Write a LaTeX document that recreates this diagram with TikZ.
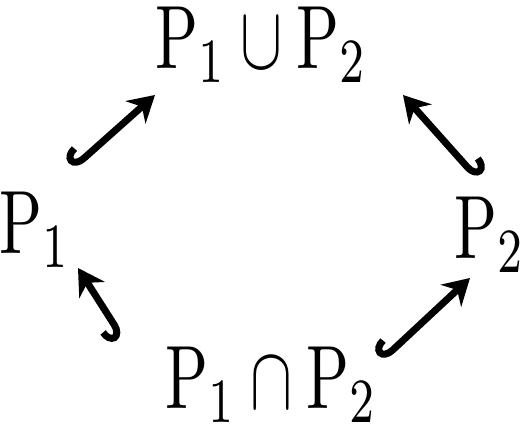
\documentclass[tikz,border=0pt]{standalone}
\usetikzlibrary{arrows.meta}
\begin{document}
\begin{tikzpicture}[x=1pt,y=1pt,
  lbl/.style={inner sep=0pt,xscale=6.3,yscale=9},
  inclr/.style={line width=7pt,line cap=round,{Hooks[right,length=14pt,width=34pt]}-{Stealth[length=26pt,width=30pt]}},
  incll/.style={line width=7pt,line cap=round,{Hooks[left,length=14pt,width=34pt]}-{Stealth[length=26pt,width=30pt]}}]
\useasboundingbox (0,0) rectangle (523,435);
\node[lbl] (union) at (262,390) {$\mathrm{P}_1\cup \mathrm{P}_2$};
\node[lbl] (p1) at (35,205) {$\mathrm{P}_1$};
\node[lbl] (p2) at (490,200) {$\mathrm{P}_2$};
\node[lbl] (inter) at (272,50) {$\mathrm{P}_1\cap \mathrm{P}_2$};
\draw[inclr] ([shift={(38,62)}]p1.center) -- ([shift={(-107,-50)}]union.center);
\draw[incll] ([shift={(-13,57)}]p2.center) -- ([shift={(141,-50)}]union.center);
\draw[inclr] ([shift={(-150,48)}]inter.center) -- ([shift={(43,-38)}]p1.center);
\draw[inclr] ([shift={(110,25)}]inter.center) -- ([shift={(-20,-43)}]p2.center);
\end{tikzpicture}
\end{document}
